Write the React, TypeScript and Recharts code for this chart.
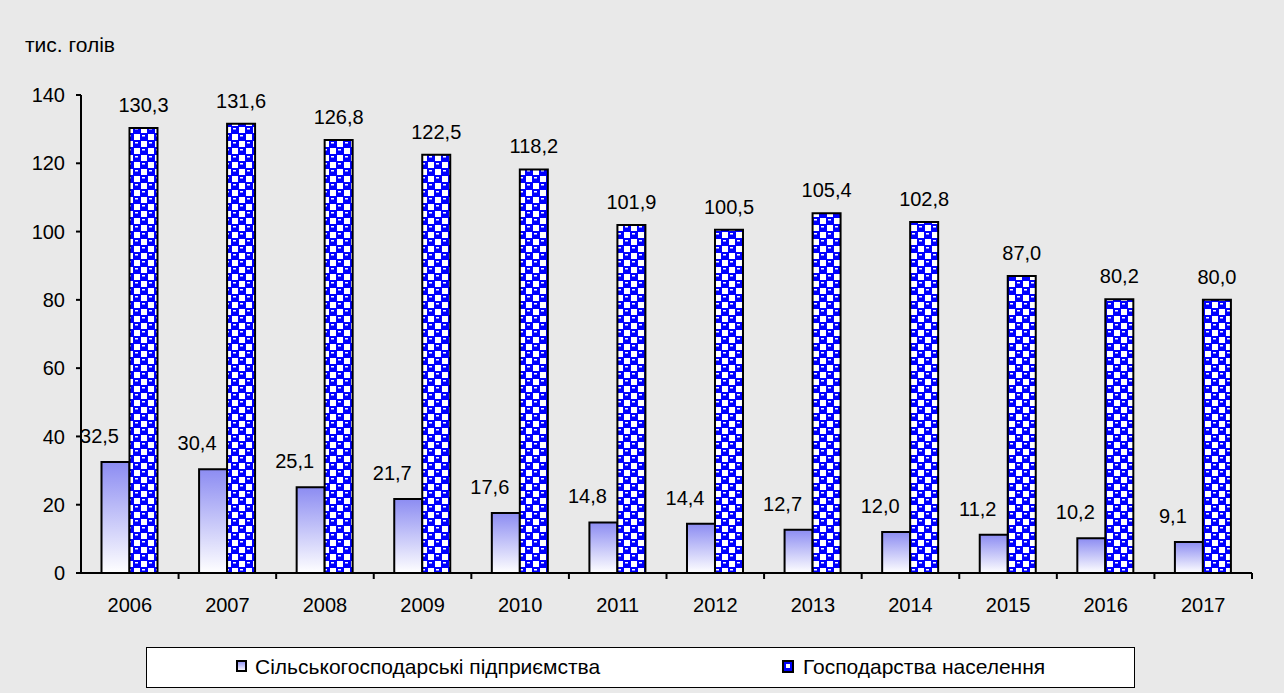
import React from 'react';
import { BarChart, Bar, XAxis, YAxis, LabelList } from 'recharts';

const years = ['2006', '2007', '2008', '2009', '2010', '2011', '2012', '2013', '2014', '2015', '2016', '2017'];
const enterprises = [32.5, 30.4, 25.1, 21.7, 17.6, 14.8, 14.4, 12.7, 12.0, 11.2, 10.2, 9.1];
const households = [130.3, 131.6, 126.8, 122.5, 118.2, 101.9, 100.5, 105.4, 102.8, 87.0, 80.2, 80.0];
const yTicks = [0, 20, 40, 60, 80, 100, 120, 140];

const seriesNames = ['Сільськогосподарські підприємства', 'Господарства населення'];

const data = years.map((year, i) => ({
  year,
  enterprises: enterprises[i],
  households: households[i],
}));

const FONT = '"Liberation Sans", Arial, sans-serif';
const fmt = (v: number) => v.toFixed(1).replace('.', ',');

const W = 1284;
const H = 693;
const MARGIN = { top: 95, right: 32, bottom: 90, left: 0 };
const Y_AXIS_W = 81;
const BAND = (W - MARGIN.right - MARGIN.left - Y_AXIS_W) / years.length;

const makeLabel = (dx: number, gap: number) => (props: any) => {
  const { x, y, width, value } = props;
  return (
    <text
      x={Number(x) + Number(width) / 2 + dx}
      y={Number(y) - gap}
      textAnchor="middle"
      fontSize={20}
      fontFamily={FONT}
      fill="#000"
    >
      {fmt(Number(value))}
    </text>
  );
};

// year label plus the tick mark on the right edge of each category
const YearTick = (props: any) => {
  const { x, y, payload } = props;
  const bx = Number(x) + BAND / 2;
  return (
    <g>
      <line x1={bx} x2={bx} y1={y} y2={Number(y) + 6} stroke="#000" strokeWidth={2} />
      <text x={x} y={Number(y) + 39} textAnchor="middle" fontSize={20} fontFamily={FONT} fill="#000">
        {payload.value}
      </text>
    </g>
  );
};

export default function App() {
  return (
    <div
      style={{
        position: 'absolute',
        left: 0,
        top: 0,
        width: W,
        height: H,
        background: '#e9e9e9',
        fontFamily: FONT,
      }}
    >
      <div style={{ position: 'absolute', left: 25, top: 33, fontSize: 21, color: '#000' }}>тис. голів</div>
      <BarChart
        width={W}
        height={H}
        data={data}
        margin={MARGIN}
        barCategoryGap="21%"
        barGap={0}
      >
        <defs>
          <linearGradient id="entGrad" x1="0" y1="0" x2="0" y2="1">
            <stop offset="0%" stopColor="#8c8cf2" />
            <stop offset="100%" stopColor="#ffffff" />
          </linearGradient>
          <pattern id="checker" patternUnits="userSpaceOnUse" width="14" height="14">
            <rect x="0" y="0" width="14" height="14" fill="#0000ff" />
            <rect x="1" y="1" width="6" height="6" fill="#ffffff" />
            <rect x="8" y="8" width="6" height="6" fill="#ffffff" />
            <rect x="9" y="2" width="3" height="1.5" fill="#ffffff" />
            <rect x="2" y="9" width="3" height="1.5" fill="#ffffff" />
          </pattern>
        </defs>
        <XAxis
          dataKey="year"
          height={30}
          axisLine={{ stroke: '#000', strokeWidth: 2 }}
          tickLine={false}
          tickSize={0}
          tickMargin={0}
          tick={<YearTick />}
          interval={0}
        />
        <YAxis
          width={Y_AXIS_W}
          domain={[0, 140]}
          ticks={yTicks}
          axisLine={{ stroke: '#000', strokeWidth: 2 }}
          tickLine={{ stroke: '#000', strokeWidth: 2 }}
          tickSize={5}
          tickMargin={11}
          tick={{ fill: '#000', fontSize: 20, fontFamily: FONT }}
        />
        <Bar
          dataKey="enterprises"
          name={seriesNames[0]}
          fill="url(#entGrad)"
          stroke="#000"
          strokeWidth={2}
          isAnimationActive={false}
        >
          <LabelList dataKey="enterprises" content={makeLabel(-16, 19)} />
        </Bar>
        <Bar
          dataKey="households"
          name={seriesNames[1]}
          fill="url(#checker)"
          stroke="#000"
          strokeWidth={2}
          isAnimationActive={false}
        >
          <LabelList dataKey="households" content={makeLabel(0, 16)} />
        </Bar>
      </BarChart>
      <div
        style={{
          position: 'absolute',
          left: 146,
          top: 647,
          width: 989,
          height: 41,
          background: '#fff',
          border: '1.5px solid #000',
          boxSizing: 'border-box',
        }}
      >
        <svg width={989} height={41} style={{ position: 'absolute', left: -1.5, top: -1.5 }}>
          <defs>
            <linearGradient id="legGrad" x1="0" y1="0" x2="0" y2="1">
              <stop offset="0%" stopColor="#8c8cf2" />
              <stop offset="100%" stopColor="#ffffff" />
            </linearGradient>
          </defs>
          <rect x={91} y={14} width={9} height={10} fill="url(#legGrad)" stroke="#000" strokeWidth={2} />
          <text x={109} y={27} fontSize={21} fontFamily={FONT} fill="#000">
            {seriesNames[0]}
          </text>
          <rect x={637} y={14} width={10} height={11} fill="#0000ff" stroke="#000" strokeWidth={2} />
          <rect x={640} y={17} width={4} height={4} fill="#ffffff" />
          <text x={657} y={27} fontSize={21} fontFamily={FONT} fill="#000">
            {seriesNames[1]}
          </text>
        </svg>
      </div>
    </div>
  );
}
